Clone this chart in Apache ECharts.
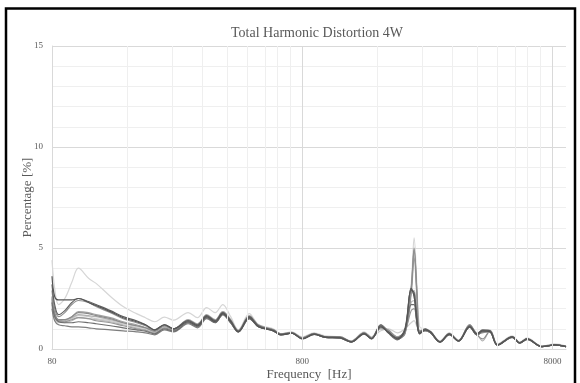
<!DOCTYPE html>
<html>
<head>
<meta charset="utf-8">
<script src="https://cdn.jsdelivr.net/npm/echarts@6/dist/echarts.min.js"></script>
<style>html,body{margin:0;padding:0;background:#fff}#c{width:580px;height:383px}</style>
</head>
<body>
<div id="c"></div>
<script>
const TITLE = 'Total Harmonic Distortion 4W';
const X_NAME = 'Frequency  [Hz]';
const Y_NAME = 'Percentage [%]';
const F_MIN = 80;
const F_MAX = 9050;
const Y_TICKS = [0, 5, 10, 15];
const GRID_MAJOR = [800, 8000];
const GRID_MINOR = [160,240,320,400,480,560,640,720,1600,2400,3200,4000,4800,5600,6400,7200];

const FREQ = [80,82,85,90,96,102,112,120,137,154,174,189,206,225,245,280,305,332,359,385,414,444,491,535,613,657,727,800,892,988,1132,1254,1413,1513,1647,1763,1920,2056,2178,2238,2300,2355,2478,2608,2840,3093,3368,3730,3993,4202,4498,4816,5521,5906,6327,7248,8167,9050];

const S1 = [4.4,3.0,2.2,2.5,3.3,4.0,3.5,3.25,2.6,2.1,1.75,1.55,1.35,1.58,1.43,1.8,1.55,2.05,1.8,2.2,1.6,0.95,1.75,1.2,1.0,0.75,0.85,0.6,0.8,0.65,0.6,0.4,0.85,0.6,1.2,0.9,0.6,0.8,3.2,5.5,3.0,1.1,1.0,0.85,0.4,0.8,0.45,1.2,0.75,0.85,0.95,0.25,0.65,0.35,0.55,0.15,0.25,0.15];
const S2 = [3.6,2.6,2.43,2.43,2.43,2.5,2.3,2.15,1.85,1.55,1.35,1.2,0.95,1.2,1.0,1.35,1.15,1.6,1.35,1.75,1.35,0.85,1.55,1.1,0.9,0.7,0.78,0.5,0.72,0.58,0.55,0.35,0.75,0.5,1.1,0.85,0.5,0.9,3.0,2.6,1.3,0.75,0.95,0.85,0.35,0.75,0.4,1.1,0.75,0.9,0.85,0.2,0.6,0.3,0.5,0.12,0.2,0.12];
const S3 = [3.2,2.2,1.7,1.9,2.3,2.5,2.35,2.2,1.9,1.6,1.4,1.2,0.95,1.2,1.0,1.4,1.2,1.65,1.4,1.8,1.4,0.88,1.6,1.15,0.92,0.72,0.8,0.52,0.75,0.6,0.58,0.36,0.78,0.52,1.15,0.8,0.55,1.0,2.9,2.8,1.5,0.8,1.0,0.8,0.35,0.7,0.4,1.15,0.75,0.95,0.9,0.2,0.6,0.3,0.5,0.12,0.2,0.12];
const S4 = [2.9,2.0,1.6,1.8,2.2,2.4,2.3,2.1,1.8,1.5,1.3,1.15,0.9,1.15,0.95,1.35,1.15,1.6,1.35,1.75,1.35,0.9,1.55,1.15,0.95,0.72,0.8,0.55,0.75,0.6,0.58,0.36,0.8,0.55,1.2,0.9,0.55,0.8,3.0,5.0,2.7,0.9,0.95,0.8,0.35,0.75,0.4,1.2,0.7,0.5,0.9,0.2,0.6,0.3,0.5,0.12,0.2,0.12];
const S5 = [2.6,1.8,1.45,1.45,1.6,1.8,1.75,1.65,1.5,1.3,1.15,1.05,0.9,1.15,1.0,1.4,1.2,1.65,1.4,1.8,1.4,0.9,1.6,1.15,0.95,0.75,0.8,0.55,0.75,0.6,0.6,0.38,0.8,0.55,1.15,0.85,0.5,0.75,2.9,4.9,2.6,0.85,0.9,0.8,0.35,0.75,0.4,1.15,0.7,0.85,0.9,0.2,0.6,0.3,0.5,0.12,0.2,0.12];
const S6 = [2.4,1.7,1.4,1.45,1.6,1.85,1.8,1.7,1.55,1.35,1.2,1.05,0.9,1.2,1.0,1.45,1.25,1.7,1.45,1.85,1.45,0.92,1.65,1.2,0.95,0.75,0.82,0.55,0.78,0.6,0.6,0.38,0.8,0.55,1.1,0.85,0.55,0.75,2.7,4.5,2.4,0.8,0.95,0.85,0.38,0.78,0.42,1.2,0.75,0.8,0.9,0.22,0.62,0.32,0.5,0.14,0.22,0.14];
const S7 = [2.2,1.6,1.35,1.4,1.55,1.7,1.65,1.6,1.45,1.3,1.15,1.05,0.85,1.15,0.98,1.4,1.2,1.65,1.4,1.8,1.4,0.9,1.6,1.15,0.95,0.75,0.8,0.55,0.75,0.6,0.55,0.35,0.8,0.55,1.0,0.9,0.6,0.9,2.8,2.9,1.7,0.8,1.0,0.85,0.35,0.75,0.4,1.1,0.75,0.4,0.9,0.2,0.6,0.3,0.5,0.12,0.2,0.12];
const S8 = [2.3,1.6,1.35,1.3,1.4,1.55,1.5,1.45,1.35,1.2,1.05,0.95,0.8,1.1,0.95,1.35,1.15,1.6,1.35,1.75,1.35,0.88,1.55,1.1,0.95,0.72,0.8,0.55,0.75,0.6,0.55,0.35,0.78,0.55,1.1,0.85,0.55,0.85,2.3,2.4,1.4,0.8,0.95,0.8,0.35,0.72,0.4,1.15,0.7,0.85,0.85,0.2,0.58,0.3,0.48,0.12,0.2,0.12];
const S9 = [2.5,1.7,1.4,1.35,1.45,1.55,1.5,1.4,1.3,1.15,1.0,0.92,0.78,1.05,0.92,1.3,1.12,1.55,1.32,1.72,1.32,0.86,1.52,1.1,0.92,0.72,0.78,0.52,0.74,0.58,0.55,0.34,0.76,0.52,1.05,0.95,0.6,0.9,1.9,2.0,1.3,0.85,0.9,0.8,0.35,0.72,0.38,1.1,0.7,0.9,0.85,0.2,0.58,0.3,0.48,0.12,0.2,0.12];
const S10 = [2.1,1.5,1.3,1.35,1.5,1.65,1.6,1.5,1.4,1.25,1.1,1.0,0.85,1.15,1.0,1.4,1.2,1.65,1.45,1.85,1.45,0.9,1.6,1.15,0.95,0.75,0.82,0.55,0.75,0.6,0.58,0.38,0.8,0.6,0.9,1.0,0.8,1.0,1.3,1.4,1.1,0.9,1.0,0.85,0.38,0.78,0.4,1.2,0.8,0.9,0.9,0.25,0.62,0.32,0.5,0.14,0.22,0.14];
const S11 = [2.0,1.4,1.2,1.15,1.1,1.1,1.05,1.0,0.95,0.9,0.85,0.8,0.7,0.95,0.85,1.25,1.05,1.5,1.3,1.7,1.3,0.85,1.5,1.1,0.9,0.7,0.78,0.52,0.72,0.58,0.55,0.35,0.75,0.52,1.15,0.85,0.5,0.85,3.0,2.6,1.3,0.75,0.95,0.8,0.35,0.72,0.4,1.1,0.7,0.85,0.85,0.2,0.58,0.3,0.48,0.12,0.2,0.12];
const S12 = [2.3,1.6,1.35,1.3,1.3,1.35,1.3,1.25,1.15,1.05,0.95,0.88,0.75,1.0,0.88,1.3,1.1,1.55,1.3,1.7,1.3,0.85,1.5,1.1,0.9,0.7,0.78,0.5,0.72,0.58,0.55,0.34,0.75,0.5,1.2,0.8,0.45,0.95,2.2,2.2,1.2,0.8,0.95,0.8,0.35,0.72,0.4,1.1,0.7,0.9,0.85,0.2,0.58,0.3,0.48,0.12,0.2,0.12];

const SERIES = [S10, S1, S8, S7, S6, S9, S5, S11, S4, S12, S3, S2];
const COLORS = ['#cfcfcf','#d6d6d6','#bdbdbd','#b0b0b0','#a3a3a3','#969696','#8a8a8a','#7e7e7e','#8f8f8f','#6e6e6e','#5f5f5f','#555555'];

const lx = f => Math.log10(f / F_MIN);
const FONT = '"Liberation Serif", "Times New Roman", serif';

const chart = echarts.init(document.getElementById('c'), null, {renderer: 'canvas'});

const gridLines = [];
GRID_MINOR.forEach(f => gridLines.push({xAxis: lx(f), lineStyle: {color: '#efefef', width: 1, type: 'solid'}}));
GRID_MAJOR.forEach(f => gridLines.push({xAxis: lx(f), lineStyle: {color: '#d9d9d9', width: 1, type: 'solid'}}));

const series = [{
  type: 'line', data: [], silent: true, z: 1,
  markLine: {silent: true, symbol: ['none', 'none'], label: {show: false}, animation: false, data: gridLines}
}];
SERIES.forEach((s, i) => {
  series.push({
    type: 'line', z: 2, smooth: 0.35, showSymbol: false, symbol: 'none', animation: false,
    lineStyle: {color: COLORS[i], width: 1.2},
    data: FREQ.map((f, j) => [lx(f), s[j]])
  });
});

chart.setOption({
  animation: false,
  backgroundColor: '#fff',
  title: {
    text: TITLE, left: 226, top: 21,
    textStyle: {fontFamily: FONT, fontSize: 14, fontWeight: 'normal', color: '#595959'}
  },
  grid: {left: 52, right: 14, top: 46, bottom: 34, containLabel: false, outerBoundsMode: 'none'},
  xAxis: {
    type: 'value', min: 0, max: lx(F_MAX), interval: 1,
    name: X_NAME, nameLocation: 'middle', nameGap: 19, nameMoveOverlap: false,
    nameTextStyle: {fontFamily: FONT, fontSize: 13, color: '#595959'},
    axisLine: {show: true, lineStyle: {color: '#d9d9d9'}},
    axisTick: {show: false},
    splitLine: {show: false},
    axisLabel: {
      showMaxLabel: false, margin: 8,
      fontFamily: FONT, fontSize: 9, color: '#595959',
      formatter: v => String(Math.round(F_MIN * Math.pow(10, v)))
    }
  },
  yAxis: {
    type: 'value', min: Y_TICKS[0], max: Y_TICKS[Y_TICKS.length - 1], interval: 5,
    name: Y_NAME, nameLocation: 'middle', nameGap: 18, nameMoveOverlap: false,
    nameTextStyle: {fontFamily: FONT, fontSize: 13, color: '#595959'},
    axisLine: {show: true, lineStyle: {color: '#d9d9d9'}},
    axisTick: {show: false},
    splitLine: {show: true, lineStyle: {color: '#d9d9d9'}},
    minorTick: {show: false, splitNumber: 5},
    minorSplitLine: {show: true, lineStyle: {color: '#efefef'}},
    axisLabel: {margin: 9, fontFamily: FONT, fontSize: 9, color: '#595959'}
  },
  graphic: [{
    type: 'rect', silent: true, z: 100,
    shape: {x: 6, y: 8.5, width: 569, height: 390},
    style: {fill: 'none', stroke: '#000', lineWidth: 2.5}
  }],
  series: series
});
</script>
</body>
</html>
